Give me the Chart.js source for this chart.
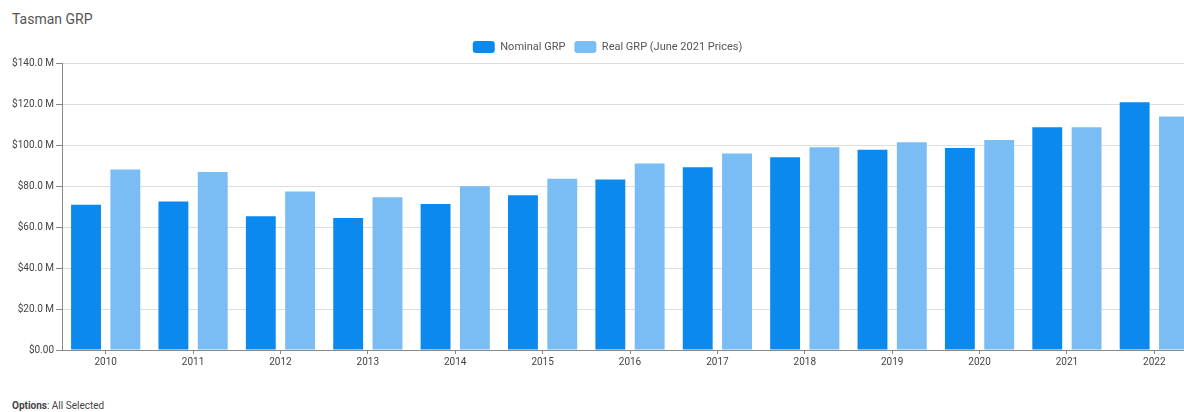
<!DOCTYPE html>
<html>
<head>
<meta charset="utf-8">
<script src="https://cdn.jsdelivr.net/npm/chart.js@4/dist/chart.umd.min.js"></script>
<style>
  html, body { margin: 0; padding: 0; background: #fff; overflow: hidden; width: 1184px; height: 412px; }
  #title { position: absolute; left: 12px; top: 11px; font: 14px Roboto, sans-serif; color: #555; }
  #wrap { position: absolute; left: -1px; top: 32px; width: 1220px; height: 338px; }
  #foot { position: absolute; left: 12px; top: 400px; font: 10px Roboto, sans-serif; color: #444; }
</style>
</head>
<body>
<div id="title">Tasman GRP</div>
<div id="wrap"><canvas id="c" width="1220" height="338"></canvas></div>
<div id="foot"><b>Options</b>: All Selected</div>
<script>
const categories = ['2010','2011','2012','2013','2014','2015','2016','2017','2018','2019','2020','2021','2022'];
const nominalGRP = [70.9, 72.4, 65.2, 64.4, 71.2, 75.5, 83.2, 89.2, 94.0, 97.7, 98.5, 108.7, 120.9];
const realGRP = [88.1, 86.8, 77.3, 74.5, 79.9, 83.5, 91.0, 95.9, 98.9, 101.3, 102.5, 108.7, 113.9];
const seriesNames = ['Nominal GRP', 'Real GRP (June 2021 Prices)'];

const shiftLegend = {
  id: 'shiftLegend',
  afterLayout(chart) { if (chart.legend) { chart.legend.left += 18; } }
};

new Chart(document.getElementById('c'), {
  type: 'bar',
  data: {
    labels: categories,
    datasets: [
      { label: seriesNames[0], data: nominalGRP, backgroundColor: 'rgb(11,137,239)', categoryPercentage: 0.9, barPercentage: 0.76 },
      { label: seriesNames[1], data: realGRP, backgroundColor: 'rgb(121,189,244)', categoryPercentage: 0.9, barPercentage: 0.76 }
    ]
  },
  plugins: [shiftLegend],
  options: {
    responsive: false,
    animation: false,
    layout: { padding: { left: 0, right: 21, top: 0, bottom: 0 } },
    plugins: {
      legend: {
        position: 'top',
        labels: {
          boxWidth: 22, boxHeight: 12, padding: 9, useBorderRadius: true, borderRadius: 3,
          color: '#555', font: { family: 'Roboto', size: 11 }
        }
      },
      tooltip: { enabled: false }
    },
    scales: {
      x: {
        grid: { display: true, drawOnChartArea: false, offset: false, tickLength: 4, color: '#888' },
        border: { color: '#888', width: 1 },
        ticks: { color: '#444', font: { family: 'Roboto', size: 10 }, padding: 2, maxRotation: 0 }
      },
      y: {
        min: 0, max: 140,
        afterFit: s => { s.width = 63; },
        grid: { color: '#ddd', tickLength: 6, tickColor: '#888' },
        border: { color: '#888', width: 1 },
        ticks: {
          stepSize: 20, color: '#444', font: { family: 'Roboto', size: 10 }, padding: 2,
          callback: v => v === 0 ? '$0.00' : '$' + v.toFixed(1) + ' M'
        }
      }
    }
  }
});
</script>
</body>
</html>
